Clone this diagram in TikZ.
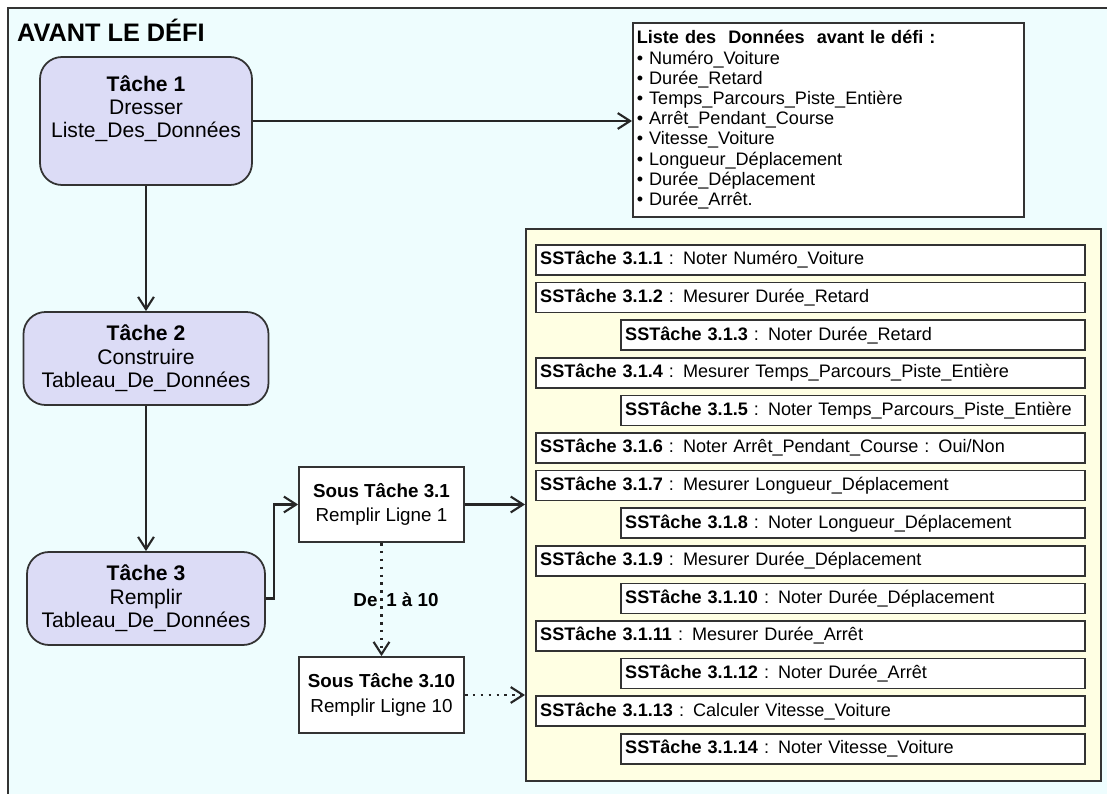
\documentclass[tikz,border=0pt]{standalone}
\usepackage{fontspec}
\setmainfont{Liberation Sans}
\usetikzlibrary{arrows.meta,positioning,calc}
\definecolor{fond}{HTML}{EEFDFE}
\definecolor{lavande}{HTML}{DCDCF6}
\definecolor{jaune}{HTML}{FFFFE3}
\definecolor{trait}{HTML}{333333}
\newlength\px
\setlength\px{0.02cm}

\begin{document}
\begin{tikzpicture}[x=0.02cm, y=-0.02cm, >={Straight Barb[length=7pt,width=9pt]},
	tache/.style={draw=trait, line width=1pt, fill=lavande, rounded corners=22\px, align=center, font=\fontsize{12}{13.3}\selectfont},
	soustache/.style={draw=trait, line width=1pt, fill=white, align=center, minimum width=165\px, minimum height=75\px, font=\fontsize{10.7}{14}\selectfont},
	sst/.style={draw=trait, line width=0.9pt, fill=white, anchor=east, align=left, minimum height=30\px, inner xsep=4\px, font=\fontsize{10.3}{12}\selectfont},
	sstlong/.style={sst, text width=541\px},
	sstcourt/.style={sst, text width=456\px},
	fleche/.style={->, line width=1.2pt, draw=black!85},
	pointille/.style={dash pattern=on 1.5pt off 3pt}]
			\useasboundingbox (0,0) rectangle (1107,794);
			\fill[fond] (8,8) rectangle (1107,794);
			\draw[trait, line width=1.2pt] (1107,8) -- (8,8) -- (8,794);
			\node[anchor=west, font=\fontsize{14.4}{17}\selectfont\bfseries] (titre) at (11,30) {AVANT LE DÉFI};
			
			\node[tache, minimum width=212\px, minimum height=128\px] (t1) at (146,121) {\textbf{Tâche 1}\\Dresser\\Liste\_Des\_Données\\[3pt]\mbox{}};
			\node[tache, minimum width=245\px, minimum height=93\px] (t2) at (146,358.5) {\textbf{Tâche 2}\\Construire\\Tableau\_De\_Données};
			\node[tache, minimum width=238\px, minimum height=93\px] (t3) at (146,598.5) {\textbf{Tâche 3}\\Remplir\\Tableau\_De\_Données};
			
			\node[draw=trait, line width=0.9pt, fill=white, anchor=north west, text width=383\px, minimum height=194\px, inner xsep=4\px, align=left, font=\fontsize{10.3}{11.5}\selectfont] (liste) at (632,22) {\textbf{Liste des\ \ Données\ \ avant le défi :}\\
				\textbullet\ Numéro\_Voiture\\
				\textbullet\ Durée\_Retard\\
				\textbullet\ Temps\_Parcours\_Piste\_Entière\\
				\textbullet\ Arrêt\_Pendant\_Course\\
				\textbullet\ Vitesse\_Voiture\\
				\textbullet\ Longueur\_Déplacement\\
				\textbullet\ Durée\_Déplacement\\
				\textbullet\ Durée\_Arrêt.};
			
			\node[soustache] (st31) at (381.5,504.5) {\textbf{Sous Tâche 3.1}\\Remplir Ligne 1};
			\node[soustache, minimum height=76\px] (st310) at (381.5,695) {\textbf{Sous Tâche 3.10}\\Remplir Ligne 10};
			
			\node[draw=trait, line width=1pt, fill=jaune, anchor=north west, minimum width=575\px, minimum height=552\px, inner sep=0] (conteneur) at (525,228) {};
			\foreach \n/\st/\txt [count=\i] in {1/sstlong/{Noter Numéro\_Voiture},
				2/sstlong/{Mesurer Durée\_Retard},
				3/sstcourt/{Noter Durée\_Retard},
				4/sstlong/{Mesurer Temps\_Parcours\_Piste\_Entière},
				5/sstcourt/{Noter Temps\_Parcours\_Piste\_Entière},
				6/sstlong/{Noter Arrêt\_Pendant\_Course : Oui/Non},
				7/sstlong/{Mesurer Longueur\_Déplacement},
				8/sstcourt/{Noter Longueur\_Déplacement},
				9/sstlong/{Mesurer Durée\_Déplacement},
				10/sstcourt/{Noter Durée\_Déplacement},
				11/sstlong/{Mesurer Durée\_Arrêt},
				12/sstcourt/{Noter Durée\_Arrêt},
				13/sstlong/{Calculer Vitesse\_Voiture},
				14/sstcourt/{Noter Vitesse\_Voiture}}{
				\node[\st] (sst\n) at (1086,{260+(\i-1)*37.6}) {\textbf{SSTâche 3.1.\n} : \txt};
			}
			
			\draw[fleche] (t1) -- (t2);
			\draw[fleche] (t2) -- (t3);
			\draw[fleche] (t1.east) -- (t1.east -| liste.west);
			\draw[fleche] (t3.east) -- ++(8,0) |- (st31.west);
			\draw[fleche] (st31.east) -- (st31.east -| conteneur.west);
			\draw[fleche, pointille] (st31) -- node[font=\fontsize{10.7}{13}\selectfont\bfseries, xshift=14.5\px] (boucle) {De\hspace{5pt}1 à 10} (st310);
			\draw[fleche, pointille] (st310.east) -- (st310.east -| conteneur.west);
			
		\end{tikzpicture}
\end{document}
